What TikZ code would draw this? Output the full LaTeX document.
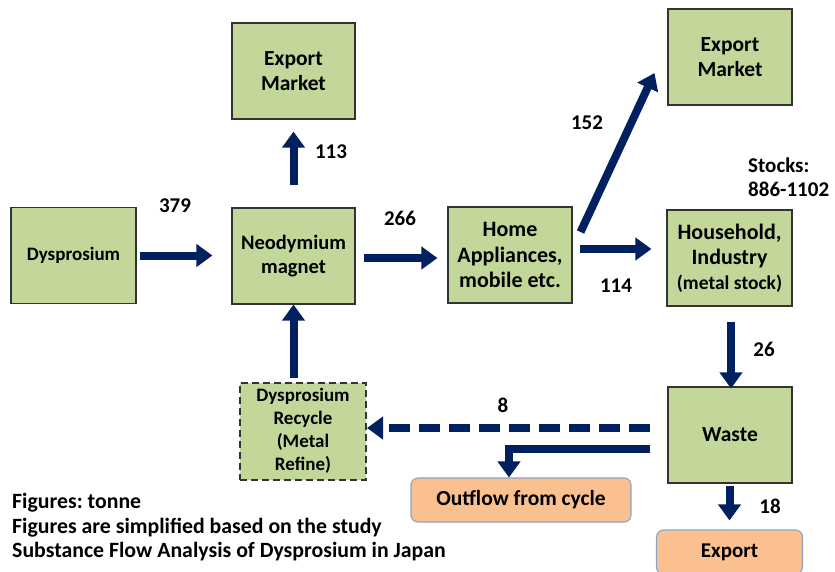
\documentclass[tikz,border=0pt]{standalone}
\usepackage{fontspec}
\setmainfont{Carlito}
\frenchspacing
\usetikzlibrary{arrows.meta,positioning}
\definecolor{boxgreen}{HTML}{C4D79B}
\definecolor{outorange}{HTML}{FAC090}
\definecolor{outline}{HTML}{8BA3C7}
\definecolor{flownavy}{HTML}{002060}

\begin{document}
\begin{tikzpicture}[x=1pt,y=-1pt,
    box/.style={draw=black!80, line width=1.1pt, fill=boxgreen, minimum width=124pt, minimum height=96pt, align=center, inner sep=2pt, font=\fontsize{21.5}{24.5}\selectfont\bfseries},
    outbox/.style={draw=outline, line width=1.1pt, fill=outorange, rounded corners=7pt, minimum height=44pt, font=\fontsize{21.5}{24}\selectfont\bfseries},
    flow/.style={draw=flownavy, line width=8pt, -{Triangle[width=22pt,length=16pt]}},
    amount/.style={font=\fontsize{21}{24}\selectfont\bfseries},
    note/.style={font=\fontsize{21.8}{24}\selectfont\bfseries, inner sep=0pt}]
    \useasboundingbox (0,0) rectangle (835,571);
    % Boxes
    \node[box, minimum width=125pt, font=\fontsize{19}{24}\selectfont\bfseries] (dy) at (73.5,255.5) {Dysprosium};
    \node[box, minimum width=123pt, font=\fontsize{20.5}{24}\selectfont\bfseries] (magnet) at (293.5,256) {Neodymium\\magnet};
    \node[box, minimum width=123pt] (exptop) at (293.5,71) {Export\\Market};
    \node[box, font=\fontsize{22}{25.5}\selectfont\bfseries] (home) at (510,255) {Home\\Appliances,\\mobile etc.};
    \node[box] (expright) at (730,57) {Export\\Market};
    \node[box, minimum width=125pt, font=\fontsize{22}{25}\selectfont\bfseries] (house) at (729.5,258) {Household,\\Industry\\{\fontsize{19.5}{22}\selectfont (metal stock)}};
    \node[box] (waste) at (730,435) {Waste};
    \node[box, dash pattern=on 7pt off 4pt, line width=2pt, minimum width=126pt, minimum height=97pt, font=\fontsize{19}{23}\selectfont\bfseries] (recycle) at (303,431) {Dysprosium\\Recycle\\(Metal\\Refine)};
    \node[outbox, minimum width=220pt] (outflow) at (521,500) {Outflow from cycle};
    \node[outbox, minimum width=146pt, font=\fontsize{21}{24}\selectfont\bfseries] (export) at (729.5,552) {Export};
    % Flows
    \draw[flow, shorten <=3pt, shorten >=19pt] (dy) -- (dy -| magnet.west);
    \draw[flow, shorten <=22pt, shorten >=12pt] (magnet.north) -- (exptop.south);
    \draw[flow, shorten <=8pt, shorten >=10pt] ([yshift=-2pt]magnet.east) -- ([yshift=-2pt]magnet.east -| home.west);
    \draw[flow] ([xshift=8pt,yshift=23pt]home.east) -- ([xshift=-13pt,yshift=-16pt]expright.west);
    \draw[flow, shorten <=7pt, shorten >=15pt] ([yshift=6pt]home.east) -- ([yshift=6pt]home.east -| house.west);
    \draw[flow, shorten <=15pt, shorten >=-2pt] ([xshift=1.5pt]house.south) -- ([xshift=1.5pt]house.south |- waste.north);
    \draw[flow, dash pattern=on 21pt off 9pt, shorten <=17pt, shorten >=0pt] ([yshift=7pt]waste.west) -- ([yshift=7pt]waste.west -| recycle.east);
    \draw[flow, shorten <=17pt, line join=miter] ([yshift=-14pt]waste.west) -| ([xshift=-12pt]outflow.north);
    \draw[flow, shorten <=2pt, shorten >=9pt] (waste.south -| export.north) -- (export.north);
    \draw[flow, shorten <=4pt] (recycle.north -| magnet.south) -- (magnet.south);
    % Amounts
    \node[amount] (a379) at (175,206) {379};
    \node[amount] (a113) at (331,152) {113};
    \node[amount] (a266) at (400,218) {266};
    \node[amount] (a152) at (587,123) {152};
    \node[amount] (a114) at (616,286) {114};
    \node[amount] (a26) at (764,349) {26};
    \node[amount] (a8) at (503,405) {8};
    \node[amount] (a18) at (770,506) {18};
    \node[amount, align=left, anchor=base west, inner sep=0pt] (stock1) at (748,172) {Stocks:};
    \node[amount, align=left, anchor=base west, inner sep=0pt] (stock2) at (748,196) {886-1102};
    % Notes
    \foreach \txt [count=\i] in {Figures: tonne, Figures are simplified based on the study, Substance Flow Analysis of Dysprosium in Japan}
        \node[note, anchor=base west] (note\i) at (12,484+24.5*\i) {\txt};
\end{tikzpicture}
\end{document}
